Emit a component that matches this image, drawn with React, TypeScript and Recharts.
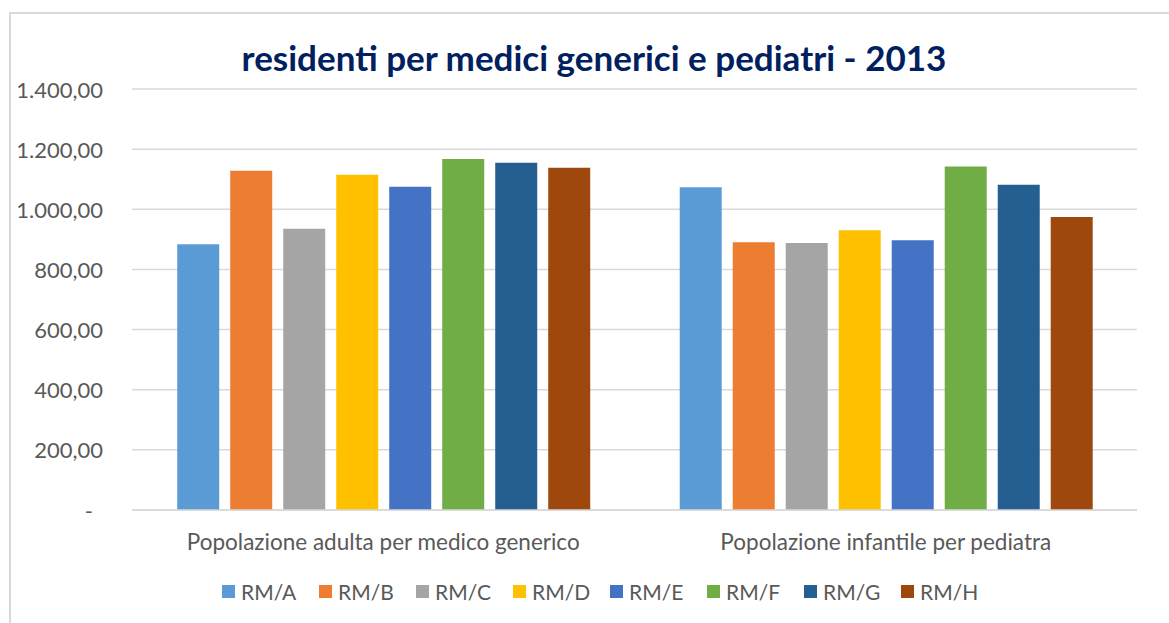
import React from "react";
import { BarChart, Bar, XAxis, YAxis, CartesianGrid } from "recharts";

const categories = [
  "Popolazione adulta per medico generico",
  "Popolazione infantile per pediatra",
];
const seriesNames = ["RM/A", "RM/B", "RM/C", "RM/D", "RM/E", "RM/F", "RM/G", "RM/H"];
const seriesColors = [
  "#5B9BD5",
  "#ED7D31",
  "#A5A5A5",
  "#FFC000",
  "#4472C4",
  "#70AD47",
  "#255E91",
  "#9E480E",
];
const adultValues = [884, 1128, 935, 1115, 1075, 1167, 1155, 1138];
const childValues = [1073, 890, 888, 930, 897, 1142, 1082, 974];
const yTicks = [0, 200, 400, 600, 800, 1000, 1200, 1400];

const seriesByCategory = [adultValues, childValues];

const data = categories.map((category, i) => {
  const row: Record<string, string | number> = { category };
  seriesNames.forEach((name, j) => {
    row[name] = seriesByCategory[i][j];
  });
  return row;
});

const FONT = "Lato, 'Open Sans', sans-serif";
const TEXT = "#595959";

// 1.400,00 style, zero shown as a dash
const formatIt = (v: number) => {
  if (v === 0) return "-";
  const [int, dec] = v.toFixed(2).split(".");
  return int.replace(/\B(?=(\d{3})+(?!\d))/g, ".") + "," + dec;
};

const YTick = ({ x, y, payload }: any) => (
  <text
    x={payload.value === 0 ? x - 10 : x}
    y={y}
    textAnchor="end"
    dominantBaseline="central"
    fill={TEXT}
    fontSize={22}
    fontFamily={FONT}
  >
    {formatIt(payload.value)}
  </text>
);

const XTick = ({ x, y, payload }: any) => (
  <text
    x={x}
    y={y}
    dy={28}
    textAnchor="middle"
    fill={TEXT}
    fontSize={22.5}
    fontFamily={FONT}
  >
    {payload.value}
  </text>
);

export default function App() {
  return (
    <div
      style={{
        position: "absolute",
        left: 0,
        top: 0,
        width: 1169,
        height: 623,
        overflow: "hidden",
        background: "#fff",
        fontFamily: FONT,
      }}
    >
      <div
        style={{
          position: "absolute",
          left: 9,
          top: 12,
          width: 1200,
          height: 700,
          border: "2px solid #d9d9d9",
        }}
      />
      <div
        style={{
          position: "absolute",
          left: 0,
          width: 1188,
          top: 36,
          textAlign: "center",
          fontSize: 35,
          fontWeight: 700,
          color: "#002060",
        }}
      >
        residenti per medici generici e pediatri - 2013
      </div>
      <div style={{ position: "absolute", left: 0, top: 0 }}>
        <BarChart
          width={1169}
          height={623}
          data={data}
          margin={{ top: 89, right: 32, bottom: 63, left: 20 }}
          barCategoryGap="9%"
          barGap={11}
        >
          <CartesianGrid vertical={false} stroke="#d9d9d9" strokeWidth={1.5} />
          <XAxis
            dataKey="category"
            height={50}
            tickLine={false}
            tickSize={0}
            tickMargin={12}
            axisLine={{ stroke: "#d9d9d9", strokeWidth: 1.5 }}
            tick={<XTick />}
            interval={0}
          />
          <YAxis
            width={112}
            domain={[0, 1400]}
            ticks={yTicks}
            interval={0}
            axisLine={false}
            tickLine={false}
            tickSize={0}
            tickMargin={29}
            tick={<YTick />}
          />
          {seriesNames.map((name, i) => (
            <Bar
              key={name}
              dataKey={name}
              fill={seriesColors[i]}
              isAnimationActive={false}
            />
          ))}
        </BarChart>
      </div>
      <div
        style={{
          position: "absolute",
          left: 222,
          top: 579,
          display: "flex",
          color: TEXT,
          fontSize: 21,
        }}
      >
        {seriesNames.map((name, i) => (
          <div
            key={name}
            style={{ width: 97, display: "flex", alignItems: "center" }}
          >
            <span
              style={{
                width: 13,
                height: 13,
                background: seriesColors[i],
                marginRight: 6,
                display: "inline-block",
              }}
            />
            <span>{name}</span>
          </div>
        ))}
      </div>
    </div>
  );
}
